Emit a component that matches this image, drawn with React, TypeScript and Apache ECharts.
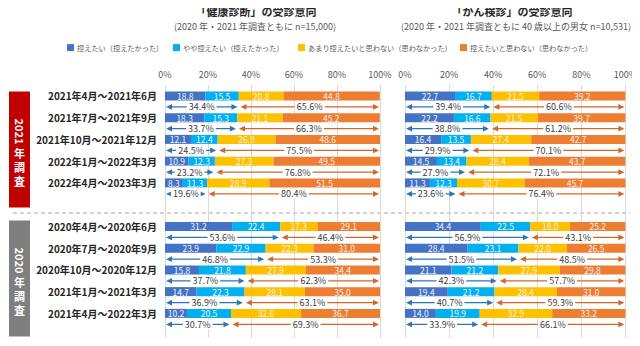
import React, { useEffect, useRef } from "react";
import * as echarts from "echarts";

const FONT = '"Noto Sans CJK JP", "Noto Sans", sans-serif';

const labels2021 = ["2021年4月～2021年6月", "2021年7月～2021年9月", "2021年10月～2021年12月", "2022年1月～2022年3月", "2022年4月～2023年3月"];
const labels2020 = ["2020年4月～2020年6月", "2020年7月～2020年9月", "2020年10月～2020年12月", "2021年1月～2021年3月", "2021年4月～2022年3月"];
const axisTicks = [0, 20, 40, 60, 80, 100];

const seriesNames = ["控えたい（控えたかった）", "やや控えたい（控えたかった）", "あまり控えたいと思わない（思わなかった）", "控えたいと思わない（思わなかった）"];
const seriesColors = ["#4472C4", "#00B0F0", "#FFC000", "#ED7D31"];

// 健康診断 (rows: 2021 block then 2020 block)
const health1 = [18.8, 18.3, 12.1, 10.9, 8.3, 31.2, 23.9, 15.8, 14.7, 10.2];
const health2 = [15.5, 15.3, 12.4, 12.3, 11.3, 22.4, 22.9, 21.8, 22.3, 20.5];
const health3 = [20.8, 21.1, 26.9, 27.3, 28.9, 17.3, 22.3, 27.9, 28.1, 32.6];
const health4 = [44.8, 45.2, 48.6, 49.5, 51.5, 29.1, 31.0, 34.4, 35.0, 36.7];
const healthPos = [34.4, 33.7, 24.5, 23.2, 19.6, 53.6, 46.8, 37.7, 36.9, 30.7];
const healthNeg = [65.6, 66.3, 75.5, 76.8, 80.4, 46.4, 53.3, 62.3, 63.1, 69.3];

// がん検診
const cancer1 = [22.7, 22.2, 16.4, 14.5, 11.3, 34.4, 28.4, 21.1, 19.4, 14.0];
const cancer2 = [16.7, 16.6, 13.5, 13.4, 12.3, 22.5, 23.1, 21.2, 21.2, 19.9];
const cancer3 = [21.5, 21.5, 27.4, 28.4, 30.7, 18.0, 22.0, 27.9, 28.4, 32.9];
const cancer4 = [39.2, 39.7, 42.7, 43.7, 45.7, 25.2, 26.5, 29.8, 31.0, 33.2];
const cancerPos = [39.4, 38.8, 29.9, 27.9, 23.6, 56.9, 51.5, 42.3, 40.7, 33.9];
const cancerNeg = [60.6, 61.2, 70.1, 72.1, 76.4, 43.1, 48.5, 57.7, 59.3, 66.1];

const categories = [...labels2021, "", ...labels2020, " "];

// map 10 data rows to 12 category slots (gap after 5th, extra slot at end)
const rowIndex = (i: number) => (i < 5 ? i : i + 1);
const withGaps = (arr: number[]) => {
  const out: any[] = categories.map(() => "-");
  arr.forEach((v, i) => (out[rowIndex(i)] = v));
  return out;
};

function barSeries(gridIdx: number, arrs: number[][]) {
  return arrs.map((arr, k) => ({
    name: seriesNames[k],
    type: "bar",
    stack: "s" + gridIdx,
    xAxisIndex: gridIdx,
    yAxisIndex: gridIdx,
    barWidth: 9,
    data: withGaps(arr),
    itemStyle: { color: seriesColors[k] },
    label: {
      show: true,
      position: "inside",
      color: "#F4F4F4",
      fontSize: 8.5,
      lineHeight: 9,
      fontFamily: FONT,
      formatter: (p: any) => Number(p.value).toFixed(1),
    },
    emphasis: { disabled: true },
  }));
}

function arrowSeries(gridIdx: number, pos: number[], neg: number[]) {
  const BLUE = "#2E75B6";
  const ORANGE = "#D0682A";
  return {
    type: "custom",
    xAxisIndex: gridIdx,
    yAxisIndex: gridIdx,
    silent: true,
    z: 5,
    data: pos.map((p, i) => [p, rowIndex(i), neg[i]]),
    renderItem: (params: any, api: any) => {
      const p = api.value(0);
      const idx = api.value(1);
      const n = api.value(2);
      const a0 = api.coord([0, idx]);
      const am = api.coord([p, idx]);
      const a1 = api.coord([100, idx]);
      const y = a0[1] + 11;
      const xa = a0[0] + 1;
      const xm1 = am[0] - 1.5;
      const xm2 = am[0] + 1.5;
      const xb = a1[0] - 1;
      const head = 6;
      const hh = 2.8;
      const mk = (x1: number, x2: number, color: string, txt: string) => [
        { type: "line", shape: { x1: x1 + head - 1, y1: y, x2: x2 - head + 1, y2: y }, style: { stroke: color, lineWidth: 1.2 } },
        { type: "polygon", shape: { points: [[x1, y], [x1 + head, y - hh], [x1 + head, y + hh]] }, style: { fill: color } },
        { type: "polygon", shape: { points: [[x2, y], [x2 - head, y - hh], [x2 - head, y + hh]] }, style: { fill: color } },
        {
          type: "text",
          x: (x1 + x2) / 2,
          y: y,
          style: {
            text: txt,
            fill: "#404040",
            fontSize: 9,
            lineHeight: 10,
            fontFamily: FONT,
            align: "center",
            verticalAlign: "middle",
            textAlign: "center",
            textVerticalAlign: "middle",
            backgroundColor: "#FFFFFF",
            padding: [0, 2],
          },
        },
      ];
      return {
        type: "group",
        children: [...mk(xa, xm1, BLUE, p.toFixed(1) + "%"), ...mk(xm2, xb, ORANGE, n.toFixed(1) + "%")],
      };
    },
  };
}

function xAxisDef(gridIdx: number) {
  return {
    type: "value",
    gridIndex: gridIdx,
    position: "top",
    min: axisTicks[0],
    max: axisTicks[axisTicks.length - 1],
    interval: axisTicks[1] - axisTicks[0],
    axisLine: { show: false },
    axisTick: { show: false },
    axisLabel: { formatter: "{value}%", color: "#595959", fontSize: 9, fontFamily: FONT, margin: 6 },
    splitLine: { show: true, lineStyle: { color: "#D9D9D9", width: 1 } },
  };
}

function yAxisDef(gridIdx: number, showLabels: boolean) {
  return {
    type: "category",
    gridIndex: gridIdx,
    inverse: true,
    data: categories,
    axisLine: { show: false },
    axisTick: { show: false },
    axisLabel: {
      show: showLabels,
      color: "#262626",
      fontSize: 10,
      fontWeight: "bold",
      fontFamily: FONT,
      margin: 8,
    },
    splitLine: { show: false },
  };
}

function sideBox(cy: number, color: string, year: string) {
  const st = (text: string) => ({
    text,
    fill: "#FFFFFF",
    font: `bold 11px ${FONT}`,
    lineHeight: 12,
    align: "center",
    verticalAlign: "middle",
    textAlign: "center",
    textVerticalAlign: "middle",
  });
  return [
    { type: "rect", shape: { x: 9, y: cy - 58, width: 21, height: 116 }, style: { fill: color } },
    { type: "text", x: 19.5, y: cy - 18, rotation: -Math.PI / 2, style: st(year) },
    ...["年", "調", "査"].map((ch, i) => ({ type: "text", x: 19.5, y: cy + 3 + i * 14, style: st(ch) })),
  ];
}

const legendLefts = [62, 168, 293, 455];

export default function App() {
  const ref = useRef<HTMLDivElement>(null);
  useEffect(() => {
    if (!ref.current) return;
    const chart = echarts.init(ref.current, undefined, { renderer: "svg" });
    const txt = (x: number, y: number, text: string, font: string, fill: string) => ({
      type: "text",
      x,
      y,
      style: { text, font, fill, align: "center", verticalAlign: "middle", textAlign: "center", textVerticalAlign: "middle" },
    });
    chart.setOption({
      animation: false,
      backgroundColor: "#FFFFFF",
      textStyle: { fontFamily: FONT },
      legend: seriesNames.map((nm, i) => ({
        data: [nm],
        left: legendLefts[i],
        top: 39,
        icon: "rect",
        itemWidth: 7,
        itemHeight: 7,
        itemGap: 4,
        selectedMode: false,
        textStyle: { color: "#595959", fontSize: 7.2, fontFamily: FONT, padding: [0, 0, 0, -2] },
      })),
      grid: [
        { left: 165, right: 260, top: 85, bottom: -15, containLabel: false },
        { left: 405, right: 13, top: 85, bottom: -15, containLabel: false },
      ],
      xAxis: [xAxisDef(0), xAxisDef(1)],
      yAxis: [yAxisDef(0, true), yAxisDef(1, false)],
      series: [
        ...barSeries(0, [health1, health2, health3, health4]),
        ...barSeries(1, [cancer1, cancer2, cancer3, cancer4]),
        arrowSeries(0, healthPos, healthNeg),
        arrowSeries(1, cancerPos, cancerNeg),
      ],
      graphic: [
        txt(256, 11, "「健康診断」の受診意向", `bold 11px ${FONT}`, "#262626"),
        txt(255, 26, "(2020 年・2021 年調査ともに n=15,000)", `9px ${FONT}`, "#595959"),
        txt(512, 11, "「がん検診」の受診意向", `bold 11px ${FONT}`, "#262626"),
        txt(516, 26, "(2020 年・2021 年調査ともに 40 歳以上の男女 n=10,531)", `9px ${FONT}`, "#595959"),
        {
          type: "line",
          shape: { x1: 13, y1: 213, x2: 630, y2: 213 },
          style: { stroke: "#A6A6A6", lineWidth: 1, lineDash: [4, 3] },
        },
        ...sideBox(149.5, "#C00000", "2021"),
        ...sideBox(278.5, "#7F7F7F", "2020"),
      ],
    });
    return () => chart.dispose();
  }, []);
  return <div ref={ref} style={{ width: 640, height: 346, margin: -8 }} />;
}
